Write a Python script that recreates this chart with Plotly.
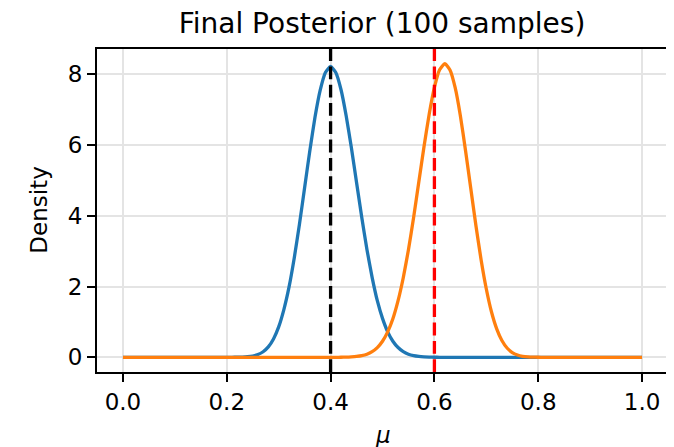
import plotly.graph_objects as go

# grid of mu values (0 .. 1, step 0.01)
mu = [round(i * 0.01, 2) for i in range(101)]

# posterior densities
blue = ([0] * 20 +
        [0.0003, 0.0008, 0.0023, 0.006, 0.016, 0.037, 0.079, 0.158, 0.295, 0.52,   # 0.20-0.29
         0.86, 1.35, 1.99, 2.81, 3.76, 4.80, 5.84, 6.79, 7.55, 8.05,               # 0.30-0.39
         8.22, 8.05, 7.57, 6.83, 5.93, 4.94, 3.96, 3.05, 2.26, 1.60,               # 0.40-0.49
         1.10, 0.72, 0.455, 0.276, 0.160, 0.089, 0.048, 0.025, 0.012, 0.0057,      # 0.50-0.59
         0.0025, 0.001, 0.0004] +                                                  # 0.60-0.62
        [0] * 38)
orange = ([0] * 42 +
          [0.0015, 0.0045, 0.012, 0.025, 0.048, 0.089, 0.160, 0.275,               # 0.42-0.49
           0.453, 0.72, 1.09, 1.60, 2.25, 3.04, 3.96, 4.96, 5.96, 6.88,            # 0.50-0.59
           7.63, 8.13, 8.30, 8.12, 7.62, 6.83, 5.84, 4.78, 3.72, 2.75,             # 0.60-0.69
           1.93, 1.28, 0.805, 0.475, 0.263, 0.136, 0.066, 0.029, 0.012, 0.0045,    # 0.70-0.79
           0.0015, 0.0005] +                                                       # 0.80-0.81
          [0] * 19)

true_mu = 0.4
other_mu = 0.6

x_ticks = [0.0, 0.2, 0.4, 0.6, 0.8, 1.0]
y_ticks = [0, 2, 4, 6, 8]

FONT = "DejaVu Sans"
TICK = 23

fig = go.Figure()
fig.add_trace(go.Scatter(x=mu, y=blue, mode="lines",
                         line=dict(color="#1f77b4", width=3.3, shape="spline", smoothing=0.5),
                         showlegend=False))
fig.add_trace(go.Scatter(x=mu, y=orange, mode="lines",
                         line=dict(color="#ff7f0e", width=3.3, shape="spline", smoothing=0.5),
                         showlegend=False))

fig.add_shape(type="line", xref="x", yref="paper", x0=true_mu, x1=true_mu, y0=0, y1=1,
              line=dict(color="black", width=3.3, dash="12.8px,5.5px"))
fig.add_shape(type="line", xref="x", yref="paper", x0=other_mu, x1=other_mu, y0=0, y1=1,
              line=dict(color="red", width=3.3, dash="12.8px,5.5px"))

axis_common = dict(showline=True, mirror=True, linecolor="black", linewidth=1.8,
                   ticks="outside", ticklen=8, tickwidth=1.8, tickcolor="black",
                   showgrid=True, gridcolor="#e4e4e4", gridwidth=1.8, zeroline=False,
                   automargin=False,
                   tickfont=dict(family=FONT, size=TICK, color="black"))

# the page body adds an 8px margin, so the figure is 8px smaller on each side
fig.update_layout(
    width=666, height=439,
    margin=dict(l=89, r=6, t=41, b=75),
    paper_bgcolor="white", plot_bgcolor="white",
    title=dict(text="Final Posterior (100 samples)", x=0.5616, xanchor="center",
               xref="container", yref="container", y=0.966, yanchor="middle",
               font=dict(family=FONT, size=28, color="black")),
    xaxis=dict(range=[-0.05, 1.05], tickvals=x_ticks, ticktext=[f"{v:.1f}" for v in x_ticks],
               **axis_common),
    yaxis=dict(range=[-0.415, 8.715], tickvals=y_ticks, ticktext=[str(v) for v in y_ticks],
               **axis_common),
    annotations=[
        dict(text="<i>μ</i>", xref="paper", yref="paper", x=0.5, y=-0.195,
             xanchor="center", yanchor="middle", showarrow=False,
             font=dict(family=FONT, size=TICK, color="black")),
        dict(text="Density", xref="paper", yref="paper", x=-0.103, y=0.5,
             xanchor="center", yanchor="middle", showarrow=False, textangle=-90,
             font=dict(family=FONT, size=TICK, color="black")),
    ],
)

fig.write_html("out.html")
